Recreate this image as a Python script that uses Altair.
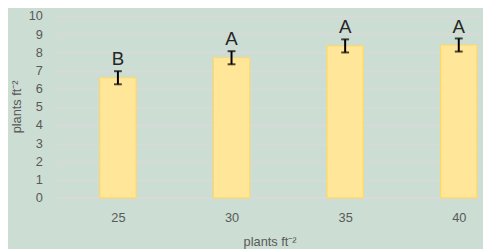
import altair as alt
import pandas as pd

density = [25, 30, 35, 40]
means = [6.6, 7.7, 8.35, 8.4]
errors = [0.36, 0.36, 0.36, 0.36]
letters = ["B", "A", "A", "A"]

df = pd.DataFrame({"x": density, "m": means, "e": errors, "lab": letters})
df["lo"] = df["m"] - df["e"]
df["hi"] = df["m"] + df["e"]

FONT = "Liberation Sans"
TXT = "#595959"

xaxis = alt.Axis(values=density, format="d", title="plants ft⁻²", grid=False,
                 ticks=False, domain=True, domainColor="#d9d9d9", domainWidth=1.5,
                 labelPadding=14, titlePadding=11)
xscale = alt.Scale(domain=[22.5, 40.85], nice=False, zero=False)
yaxis = alt.Axis(values=list(range(0, 11)), title="plants ft⁻²", grid=True,
                 gridColor="#d9d9d9", gridWidth=1.5, ticks=False, domain=False,
                 labelPadding=14, labelOverlap=False,
                 titleX=-40, titleY=92, titleAngle=270, titleAlign="center",
                 titleBaseline="middle")
yscale = alt.Scale(domain=[0, 10], nice=False)

base = alt.Chart(df)

bars = base.mark_bar(size=37, color="#ffe699", stroke="#ffd966", strokeWidth=1.2).encode(
    x=alt.X("x:Q", scale=xscale, axis=xaxis),
    y=alt.Y("m:Q", scale=yscale, axis=yaxis),
)

rule = base.mark_rule(color="#000000", strokeWidth=2).encode(
    x=alt.X("x:Q", scale=xscale, axis=xaxis),
    y=alt.Y("lo:Q", scale=yscale, axis=yaxis), y2="hi:Q"
)
cap_lo = base.mark_tick(color="#000000", size=8, thickness=2, orient="horizontal").encode(
    x=alt.X("x:Q", scale=xscale, axis=xaxis), y=alt.Y("lo:Q", scale=yscale, axis=yaxis)
)
cap_hi = base.mark_tick(color="#000000", size=8, thickness=2, orient="horizontal").encode(
    x=alt.X("x:Q", scale=xscale, axis=xaxis), y=alt.Y("hi:Q", scale=yscale, axis=yaxis)
)
text = base.mark_text(fontSize=19, font=FONT, color="#262626", baseline="alphabetic", dy=-6).encode(
    x=alt.X("x:Q", scale=xscale, axis=xaxis), y=alt.Y("hi:Q", scale=yscale, axis=yaxis), text="lab:N"
)

chart = alt.layer(bars, rule, cap_lo, cap_hi, text).properties(
    width=434, height=185,
    background="#ccddd3",
    autosize=alt.AutoSizeParams(type="none"),
    padding={"left": 49, "top": 6, "right": 0, "bottom": 50},
).configure_view(stroke=None).configure_axis(
    labelFont=FONT, titleFont=FONT, labelColor=TXT, titleColor=TXT,
    labelFontSize=13, titleFontSize=13, titleFontWeight="normal",
)

chart.save("out.html", embed_options={"renderer": "svg", "actions": False})
